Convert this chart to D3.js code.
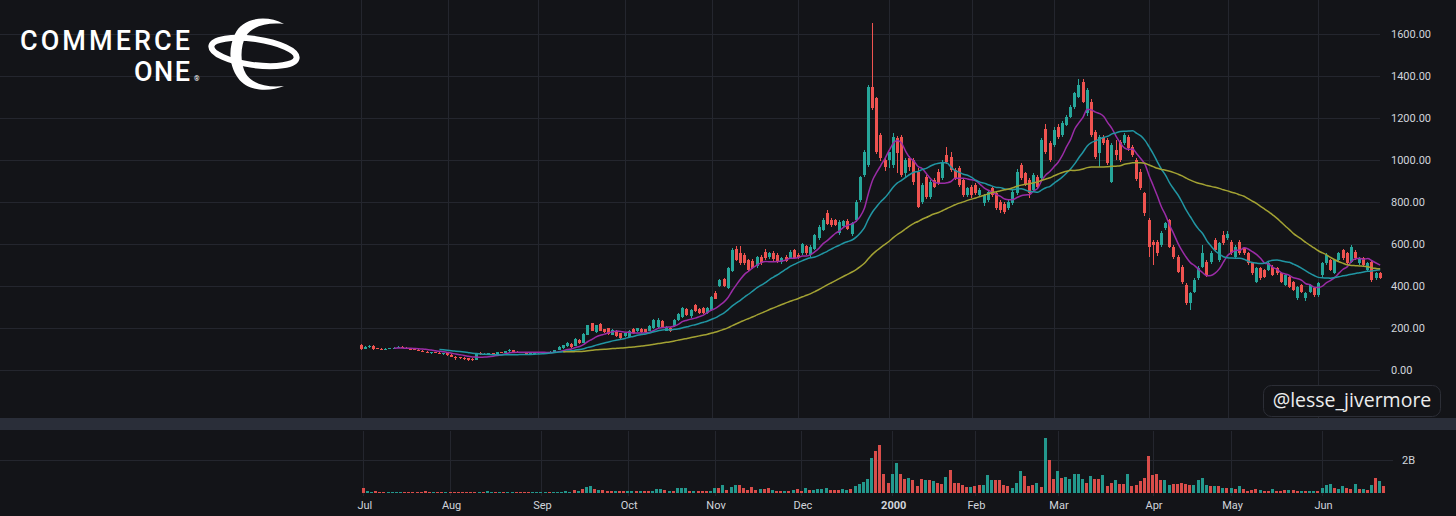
<!DOCTYPE html>
<html>
<head>
<meta charset="utf-8">
<script src="https://cdn.jsdelivr.net/npm/d3@7"></script>
<style>
  html, body { margin: 0; padding: 0; background: #131418; }
  svg { display: block; }
</style>
</head>
<body>
<svg id="chart" width="1456" height="516"></svg>
<script>
// Commerce One (CMRC) daily, Jul 1999 - Jun 2000
const monthLabels = ["Jul", "Aug", "Sep", "Oct", "Nov", "Dec", "2000", "Feb", "Mar", "Apr", "May", "Jun"];
const monthStarts = [0, 21, 43, 64, 85, 106, 128, 148, 168, 191, 210, 232];
const priceTicks = [0, 200, 400, 600, 800, 1000, 1200, 1400, 1600];

const opens = [
  118,100,108,115,104,102,99,101,103,106,110,106,102,98,96,92,86,82,84,82,78,
  80,72,64,62,58,55,52,50,80,74,78,80,78,84,82,90,95,88,84,82,80,81,
  80,83,86,82,87,96,104,112,124,115,143,130,168,222,182,219,194,198,169,186,175,
  160,158,194,184,195,194,188,200,204,233,188,202,210,238,252,289,255,308,289,294,272,
  286,368,400,432,392,470,575,556,548,524,521,494,540,563,538,555,548,512,540,534,571,
  548,556,590,548,576,628,668,746,714,714,652,684,711,650,714,810,930,975,1349,1293,1119,1000,
  1000,977,1103,1111,940,1008,1000,944,801,920,825,905,944,913,1024,1016,952,960,905,833,
  873,881,833,793,809,865,841,801,790,770,794,841,976,936,905,857,920,913,1150,1079,
  1071,1158,1119,1166,1206,1254,1301,1373,1222,1278,1135,1032,1111,1095,897,1048,1087,1079,1111,1063,1000,944,841,
  714,611,611,595,674,714,587,540,492,405,317,373,440,492,516,516,619,524,643,
  627,611,540,611,579,555,508,421,484,476,476,492,484,460,405,444,421,341,405,341,373,389,
  357,452,508,524,460,524,571,555,516,563,508,532,476,516,436,460
];
const highs = [
  122,113,118,117,106,104,104,106,108,112,112,108,104,102,98,95,90,86,88,84,82,
  82,74,66,64,60,58,55,78,84,80,82,82,86,88,92,98,97,90,86,85,83,84,
  86,88,88,90,97,112,120,132,128,153,146,174,216,226,216,222,197,202,193,190,178,
  178,190,198,202,200,197,214,244,246,238,210,206,242,270,298,294,290,314,294,298,302,
  352,378,435,438,490,580,590,590,555,530,528,545,548,575,562,565,555,540,546,570,578,
  556,606,596,595,650,690,725,760,722,720,712,716,720,706,810,925,1050,1355,1654,1300,1130,1015,
  1040,1130,1115,1120,1010,1020,1010,960,890,930,905,915,955,1000,1063,1040,960,970,910,870,
  880,890,865,840,855,870,850,810,800,810,856,955,984,945,912,936,928,1105,1170,1090,
  1155,1170,1185,1215,1262,1325,1385,1385,1345,1290,1145,1120,1120,1105,1080,1095,1095,1128,1120,1070,1010,955,850,
  725,620,620,660,705,720,595,548,500,412,372,436,495,595,525,565,630,610,660,
  662,618,595,620,585,562,515,490,490,482,515,498,490,466,458,450,426,402,410,370,410,395,
  420,515,555,530,530,562,578,560,595,570,538,538,515,522,466,466
];
const lows = [
  95,99,106,95,98,97,98,100,102,104,104,100,96,94,90,84,80,78,80,74,72,
  68,60,50,54,48,44,45,48,70,72,75,76,76,80,80,86,86,82,80,79,78,79,
  78,81,80,80,86,94,102,110,106,112,125,128,165,184,178,185,175,168,166,156,148,
  156,154,172,180,175,178,185,196,200,203,184,180,206,234,248,258,250,278,266,266,268,
  283,336,395,395,385,465,520,500,500,470,480,488,502,525,530,520,510,505,515,528,530,
  530,550,550,540,570,620,660,690,680,685,645,676,665,640,705,800,920,965,1240,1030,995,950,
  960,960,937,920,920,950,880,770,790,815,815,865,880,905,980,945,905,870,825,825,
  820,835,825,780,800,825,760,746,742,762,786,835,905,875,818,850,865,905,1030,990,
  1060,1100,1110,1160,1200,1245,1295,1270,1210,1110,1005,968,1070,975,890,1000,990,1070,1045,1015,900,855,735,
  540,500,545,585,665,580,530,460,410,309,286,365,428,485,445,505,560,515,595,
  620,548,532,548,548,500,452,415,430,438,470,446,454,415,400,392,375,335,368,330,366,350,
  350,445,500,470,455,518,525,500,510,525,502,494,470,420,430,434
];
const closes = [
  100,110,115,98,100,99,102,104,106,110,106,102,98,96,92,86,82,84,82,78,80,
  70,64,56,58,52,48,49,75,74,78,80,78,84,82,90,95,88,84,82,80,81,82,
  84,86,82,88,95,110,118,130,109,150,128,170,212,188,212,188,179,172,190,160,152,
  175,186,176,198,179,182,210,238,240,207,205,184,238,266,293,262,285,283,270,272,297,
  346,340,428,400,484,570,524,508,510,478,486,536,508,532,555,528,518,532,520,563,534,
  536,600,556,587,643,682,714,696,690,692,706,711,672,700,800,918,1040,1349,1246,1040,1008,968,
  1040,1111,1032,928,1000,968,897,778,881,825,897,873,889,992,992,952,913,881,833,865,
  833,841,857,833,849,833,770,760,752,801,849,944,912,881,845,928,873,1095,1040,1000,
  1143,1111,1174,1206,1254,1317,1357,1278,1333,1119,1016,1111,1079,984,1071,1024,1000,1119,1055,1024,908,865,746,
  587,595,555,651,698,587,540,468,421,317,365,428,488,555,452,555,571,603,603,
  650,555,587,555,555,508,460,484,436,444,508,452,460,421,452,397,381,397,373,365,405,357,
  413,508,548,476,524,555,532,508,587,532,532,500,508,428,460,440
];
// volume in billions of shares
const volumes = [
  0.32,0.12,0.08,0.1,0.09,0.08,0.05,0.05,0.06,0.05,0.04,0.05,0.05,0.04,0.04,0.1,0.05,0.04,0.05,0.04,0.05,
  0.05,0.05,0.06,0.04,0.05,0.06,0.05,0.06,0.08,0.1,0.05,0.04,0.04,0.05,0.04,0.05,0.08,0.05,0.04,0.04,0.05,0.04,
  0.05,0.04,0.05,0.06,0.08,0.07,0.1,0.08,0.2,0.1,0.26,0.36,0.42,0.26,0.18,0.16,0.12,0.1,0.14,0.12,0.1,
  0.12,0.14,0.12,0.12,0.12,0.12,0.14,0.22,0.22,0.18,0.14,0.12,0.28,0.32,0.28,0.14,0.14,0.14,0.12,0.12,0.14,
  0.32,0.3,0.5,0.18,0.34,0.5,0.46,0.3,0.2,0.36,0.16,0.26,0.22,0.32,0.2,0.14,0.14,0.14,0.12,0.16,0.22,
  0.14,0.3,0.16,0.2,0.26,0.22,0.32,0.2,0.2,0.16,0.22,0.16,0.22,0.4,0.52,0.67,0.87,2.14,2.53,2.89,1.13,0.59,
  1.13,1.84,1.17,0.87,0.93,0.77,0.4,0.85,0.77,0.8,0.75,0.62,0.55,1.0,1.41,0.63,0.63,0.5,0.36,0.36,
  0.4,0.5,0.5,1.1,0.77,0.77,0.77,0.46,0.4,0.3,0.63,1.33,1.03,0.42,0.46,0.6,0.36,3.35,1.98,0.87,
  1.33,0.91,0.97,0.83,1.17,1.13,0.83,0.63,1.03,0.83,0.87,1.07,0.4,0.6,0.77,0.53,0.53,1.17,0.42,0.46,0.73,0.93,2.22,
  1.07,1.17,0.77,0.77,0.5,0.53,0.53,0.6,0.53,0.46,0.46,0.77,0.91,0.46,0.42,0.42,0.4,0.32,0.32,
  0.3,0.26,0.42,0.22,0.12,0.2,0.22,0.16,0.14,0.12,0.22,0.14,0.1,0.16,0.2,0.16,0.14,0.14,0.12,0.14,0.14,0.12,
  0.3,0.46,0.55,0.3,0.26,0.4,0.3,0.22,0.52,0.26,0.22,0.16,0.5,0.93,0.73,0.4
];

// moving averages shown on the chart
const maPeriods = [9, 20, 50];
const maColors = ["#9a2ca6", "#2196a3", "#a3a233"];

const upColor = "#26a69a";
const downColor = "#ef5350";
const gridColor = "#24262e";
const textColor = "#d1d4dc";

const bars = opens.map((o, i) => ({
  i, o, h: highs[i], l: lows[i], c: closes[i], v: volumes[i]
}));

const svg = d3.select("#chart");

// scales (price pane and volume pane sit a few px apart in the screenshot)
const x = d3.scaleLinear().domain([0, 232]).range([361, 1318.3]);
const xv = d3.scaleLinear().domain([0, 232]).range([363.3, 1322]);
const y = d3.scaleLinear().domain([0, 1600]).range([370, 34]);
const yv = d3.scaleLinear().domain([0, 2]).range([493, 460]);

svg.append("rect").attr("width", 1456).attr("height", 516).attr("fill", "#131418");

// clips
const defs = svg.append("defs");
defs.append("clipPath").attr("id", "mainClip")
  .append("rect").attr("x", 0).attr("y", 0).attr("width", 1383).attr("height", 418);
defs.append("clipPath").attr("id", "volClip")
  .append("rect").attr("x", 0).attr("y", 431).attr("width", 1395).attr("height", 65);

// grid - main pane
const grid = svg.append("g").attr("shape-rendering", "crispEdges").attr("stroke", gridColor);
grid.selectAll(".hg").data(priceTicks).join("line")
  .attr("x1", 0).attr("x2", 1380)
  .attr("y1", d => Math.round(y(d)) + 0.5).attr("y2", d => Math.round(y(d)) + 0.5);
grid.selectAll(".vg").data(monthStarts).join("line")
  .attr("x1", d => Math.round(x(d)) + 0.5).attr("x2", d => Math.round(x(d)) + 0.5)
  .attr("y1", 0).attr("y2", 418);

// grid - volume pane
grid.append("line")
  .attr("x1", 0).attr("x2", 1393)
  .attr("y1", Math.round(yv(2)) + 0.5).attr("y2", Math.round(yv(2)) + 0.5);
grid.selectAll(".vvg").data(monthStarts).join("line").attr("class", "vvg")
  .attr("x1", d => Math.round(xv(d)) + 0.5).attr("x2", d => Math.round(xv(d)) + 0.5)
  .attr("y1", 431).attr("y2", 496);

// pane separator
svg.append("rect").attr("x", 0).attr("y", 418).attr("width", 1456).attr("height", 12)
  .attr("fill", "#2a2e39");

// candles
const main = svg.append("g").attr("clip-path", "url(#mainClip)");
const candles = main.append("g").attr("shape-rendering", "crispEdges")
  .selectAll("g").data(bars).join("g")
  .attr("fill", d => d.c >= d.o ? upColor : downColor);
candles.append("rect")
  .attr("x", d => x(d.i) - 0.5).attr("width", 1)
  .attr("y", d => y(d.h)).attr("height", d => Math.max(1, y(d.l) - y(d.h)));
candles.append("rect")
  .attr("x", d => x(d.i) - 1.5).attr("width", 3)
  .attr("y", d => y(Math.max(d.o, d.c)))
  .attr("height", d => Math.max(1, Math.abs(y(d.o) - y(d.c))));

// moving averages
function sma(values, n) {
  return values.map((v, i) => i < n - 1 ? null : d3.mean(values.slice(i - n + 1, i + 1)));
}
const line = d3.line()
  .defined(d => d.v != null)
  .x(d => x(d.i)).y(d => y(d.v))
  .curve(d3.curveMonotoneX);
maPeriods.forEach((n, k) => {
  const ma = sma(closes, n).map((v, i) => ({ i, v }));
  main.append("path").datum(ma)
    .attr("fill", "none")
    .attr("stroke", maColors[k])
    .attr("stroke-width", 1.5)
    .attr("d", line);
});

// volume bars
svg.append("g").attr("clip-path", "url(#volClip)").attr("shape-rendering", "crispEdges")
  .selectAll("rect").data(bars).join("rect")
  .attr("x", d => xv(d.i) - 1.5).attr("width", 3)
  .attr("y", d => yv(d.v)).attr("height", d => Math.max(1, yv(0) - yv(d.v)))
  .attr("fill", d => d.c >= d.o ? upColor : downColor)
  .attr("opacity", 0.9);

// price axis labels
const fmt = d3.format(".2f");
svg.append("g").selectAll("text").data(priceTicks).join("text")
  .attr("x", 1391).attr("y", d => y(d) + 4)
  .attr("fill", textColor)
  .style("font", "11px Roboto, sans-serif")
  .text(d => fmt(d));

svg.append("text")
  .attr("x", 1402).attr("y", yv(2) + 4)
  .attr("fill", textColor)
  .style("font", "11px Roboto, sans-serif")
  .text("2B");

// time axis labels
svg.append("g").selectAll("text").data(monthLabels).join("text")
  .attr("x", (d, k) => xv(monthStarts[k]) + 1.5)
  .attr("y", 509)
  .attr("text-anchor", "middle")
  .attr("fill", textColor)
  .style("font", d => (d === "2000" ? "bold " : "") + "11px Roboto, sans-serif")
  .text(d => d);

// watermark
svg.append("rect")
  .attr("x", 1263.5).attr("y", 385.5).attr("width", 177).attr("height", 31).attr("rx", 8)
  .attr("fill", "#131418").attr("stroke", "#2c2e36");
svg.append("text")
  .attr("x", 1352).attr("y", 407).attr("text-anchor", "middle")
  .attr("fill", "#ececec")
  .style("font", "19.5px 'Open Sans', sans-serif")
  .text("@lesse_jivermore");

// logo
const logo = svg.append("g").attr("fill", "#ffffff");
logo.append("text").attr("x", 20).attr("y", 50)
  .attr("textLength", 170).attr("lengthAdjust", "spacing")
  .style("font", "500 27px Roboto, sans-serif").text("COMMERCE");
logo.append("text").attr("x", 134).attr("y", 81)
  .attr("textLength", 56).attr("lengthAdjust", "spacing")
  .style("font", "500 27px Roboto, sans-serif").text("ONE");
logo.append("text").attr("x", 194).attr("y", 81)
  .style("font", "7px Roboto, sans-serif").text("®");
logo.append("ellipse")
  .attr("cx", 254).attr("cy", 52).attr("rx", 43).attr("ry", 13)
  .attr("transform", "rotate(8 254 52)")
  .attr("fill", "none").attr("stroke", "#ffffff").attr("stroke-width", 6);
logo.append("path")
  .attr("d", "M284,24 C266,14 242,18 235,34 C228,48 229,66 238,78 C248,92 270,92 284,86 " +
             "C268,88 252,84 246,74 C240,64 240,46 246,36 C252,26 268,22 284,24 Z");
</script>
</body>
</html>
